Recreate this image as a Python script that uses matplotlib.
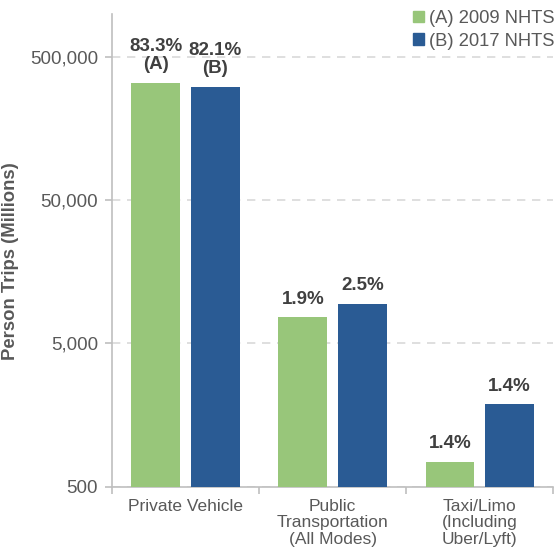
import numpy as np
import matplotlib.pyplot as plt
from matplotlib.patches import Patch
from matplotlib.ticker import FixedLocator, FuncFormatter

plt.rcParams['font.family'] = ['Liberation Sans', 'DejaVu Sans']

# data (person trips, millions)
categories = ['Private Vehicle', 'Public\nTransportation\n(All Modes)',
              'Taxi/Limo\n(Including\nUber/Lyft)']
trips_2009 = [329000, 7600, 747]
trips_2017 = [308700, 9500, 1877]
pct_2009 = ['83.3%\n(A)', '1.9%', '1.4%']
pct_2017 = ['82.1%\n(B)', '2.5%', '1.4%']
series_names = ['(A) 2009 NHTS', '(B) 2017 NHTS']
y_ticks = [500, 5000, 50000, 500000]

green = '#98c67a'
blue = '#2a5b94'
gray_txt = '#595959'
dark_txt = '#404040'

fig = plt.figure(figsize=(5.57, 5.56), dpi=100)
ax = fig.add_axes([0.201, 0.1247, 0.792, 0.85])

x = np.arange(len(categories))
w = 0.33
off = 0.2025
b1 = ax.bar(x - off, trips_2009, w, color=green, zorder=3)
b2 = ax.bar(x + off, trips_2017, w, color=blue, zorder=3)

for bars, labels in [(b1, pct_2009), (b2, pct_2017)]:
    for rect, lab in zip(bars, labels):
        ax.annotate(lab, (rect.get_x() + rect.get_width() / 2, rect.get_height()),
                    xytext=(0, 7), textcoords='offset points', ha='center', va='bottom',
                    fontsize=13.5, fontweight='bold', color=dark_txt, linespacing=1.12)

ax.set_yscale('log')
ax.set_ylim(500, 1000000)
ax.set_xlim(-0.5, 2.5)
ax.yaxis.set_major_locator(FixedLocator(y_ticks))
ax.yaxis.set_minor_locator(FixedLocator([]))
ax.yaxis.set_major_formatter(FuncFormatter(lambda v, p: f'{int(v):,}'))
ax.grid(axis='y', color='#d9d9d9', linestyle=(0, (5, 4)), linewidth=1.2, zorder=0)

ax.set_xticks(x)
ax.set_xticklabels(categories, linespacing=1.1)
ax.set_xticks([-0.5, 0.5, 1.5, 2.5], minor=True)
ax.tick_params(axis='x', which='major', length=0, pad=9, labelsize=12.5, labelcolor=gray_txt)
ax.tick_params(axis='x', which='minor', length=5, color='#bfbfbf', width=1.2)
ax.tick_params(axis='y', length=5, color='#bfbfbf', width=1.2, pad=5,
               labelsize=13.5, labelcolor=gray_txt)

for s in ['top', 'right']:
    ax.spines[s].set_visible(False)
for s in ['left', 'bottom']:
    ax.spines[s].set_color('#bfbfbf')
    ax.spines[s].set_linewidth(1.2)

ax.set_ylabel('Person Trips (Millions)', fontsize=13.3, fontweight='bold', color=gray_txt)
ax.yaxis.set_label_coords(-0.211, 0.477)

handles = [Patch(color=green), Patch(color=blue)]
fig.legend(handles, series_names, loc='upper right', bbox_to_anchor=(0.995, 0.982),
           frameon=False, fontsize=13.2, handlelength=0.6, handleheight=0.6,
           handletextpad=0.25, labelspacing=0.3, borderpad=0, borderaxespad=0,
           labelcolor=gray_txt)

fig.savefig('out.png', dpi=100)
